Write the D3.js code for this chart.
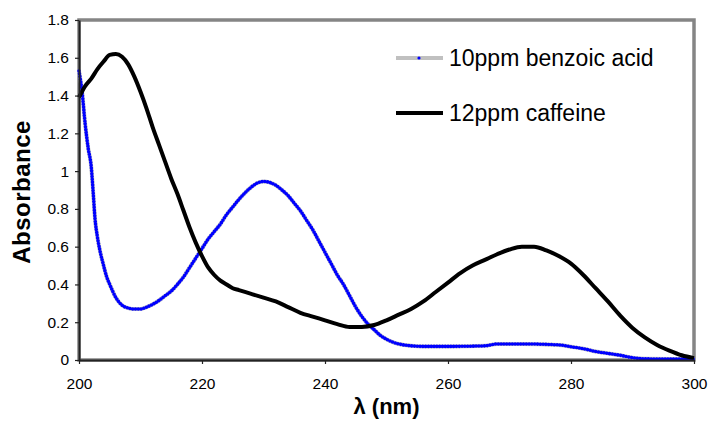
<!DOCTYPE html>
<html>
<head>
<meta charset="utf-8">
<script src="https://cdn.jsdelivr.net/npm/d3@7"></script>
<style>
  body { margin: 0; background: #fff; }
  text { font-family: "Liberation Sans", Arial, sans-serif; }
</style>
</head>
<body>
<div id="chart"></div>
<script>
// wavelength (nm) / absorbance
var benzoicNm = [200, 200.5, 201, 201.5, 202, 202.3, 202.6, 203, 203.4, 204, 204.5, 205, 206, 207, 208, 209, 210,
  211, 212, 213, 214, 215, 216, 217, 218, 219, 220, 221, 222, 223, 224, 225, 226, 227, 228, 229, 230,
  231, 232, 233, 234, 235, 236, 237, 238, 239, 240, 241, 242, 243, 244, 245, 246, 247, 248, 249, 250,
  251, 252, 254, 256, 260, 266, 268, 272, 278, 280, 282, 284, 286, 288, 290, 292, 296, 300];
var benzoicAbs = [1.53, 1.42, 1.25, 1.12, 1.02, 0.89, 0.75, 0.65, 0.58, 0.50, 0.44, 0.40, 0.33, 0.29, 0.275, 0.27, 0.27,
  0.28, 0.295, 0.315, 0.34, 0.365, 0.40, 0.44, 0.49, 0.54, 0.59, 0.64, 0.68, 0.72, 0.77, 0.81, 0.85, 0.885, 0.915, 0.937, 0.945,
  0.94, 0.925, 0.90, 0.87, 0.83, 0.79, 0.74, 0.69, 0.63, 0.57, 0.51, 0.45, 0.40, 0.34, 0.28, 0.23, 0.19, 0.16, 0.13, 0.11,
  0.095, 0.085, 0.075, 0.072, 0.072, 0.075, 0.085, 0.085, 0.08, 0.07, 0.06, 0.045, 0.035, 0.025, 0.012, 0.006, 0.005, 0.005];

var caffeineNm = [200, 201, 202, 203, 204, 205, 206, 207, 208, 209, 210, 211, 212, 213, 214, 215, 216, 217, 218, 219, 220,
  221, 222, 223, 224, 225, 226, 228, 230, 232, 234, 236, 238, 240, 242, 244, 246, 248, 250, 252, 254, 256, 258, 260,
  262, 264, 266, 268, 270, 272, 274, 276, 278, 280, 282, 284, 286, 288, 290, 292, 294, 296, 298, 300];
var caffeineAbs = [1.39, 1.45, 1.49, 1.54, 1.58, 1.615, 1.62, 1.605, 1.565, 1.50, 1.42, 1.33, 1.23, 1.14, 1.05, 0.96, 0.88, 0.79, 0.70, 0.62, 0.55,
  0.49, 0.45, 0.42, 0.40, 0.38, 0.37, 0.35, 0.33, 0.31, 0.28, 0.25, 0.23, 0.21, 0.19, 0.175, 0.175, 0.185, 0.21, 0.24, 0.27, 0.31, 0.36, 0.41,
  0.46, 0.50, 0.53, 0.56, 0.585, 0.60, 0.60, 0.58, 0.55, 0.51, 0.45, 0.38, 0.31, 0.235, 0.17, 0.12, 0.08, 0.05, 0.025, 0.01];

var xTicks = [200, 220, 240, 260, 280, 300];
var yTicks = [0, 0.2, 0.4, 0.6, 0.8, 1, 1.2, 1.4, 1.6, 1.8];
var seriesNames = ["10ppm benzoic acid", "12ppm caffeine"];

var W = 708, H = 430;
var margin = {top: 20, right: 14, bottom: 70, left: 79},
    width = W - margin.left - margin.right,
    height = H - margin.top - margin.bottom;

var svg = d3.select("#chart").append("svg")
    .attr("width", W)
    .attr("height", H);

var g = svg.append("g")
    .attr("transform", "translate(" + margin.left + "," + margin.top + ")");

var x = d3.scaleLinear().domain([200, 300]).range([0, width]);
var y = d3.scaleLinear().domain([0, 1.8]).range([height, 0]);

// plot frame (grey border like Excel)
g.append("rect")
    .attr("x", 0).attr("y", 0)
    .attr("width", width).attr("height", height)
    .attr("fill", "none")
    .attr("stroke", "#858585")
    .attr("stroke-width", 3.5);

var line = d3.line()
    .x(function(d) { return x(d[0]); })
    .y(function(d) { return y(d[1]); })
    .curve(d3.curveMonotoneX);

var benzoic = d3.zip(benzoicNm, benzoicAbs);
var caffeine = d3.zip(caffeineNm, caffeineAbs);

// benzoic acid: grey line with blue markers
g.append("path")
    .datum(benzoic)
    .attr("d", line)
    .attr("fill", "none")
    .attr("stroke", "#c0c0c0")
    .attr("stroke-width", 4);

g.append("path")
    .datum(benzoic)
    .attr("d", line)
    .attr("fill", "none")
    .attr("stroke", "#0000ff")
    .attr("stroke-width", 3.6)
    .attr("stroke-linecap", "round")
    .attr("stroke-dasharray", "0,2.8");

g.append("path")
    .datum(caffeine)
    .attr("d", line)
    .attr("fill", "none")
    .attr("stroke", "#000")
    .attr("stroke-width", 4)
    .attr("stroke-linejoin", "round");

// axes
var xAxis = g.append("g")
    .attr("transform", "translate(0," + height + ")")
    .call(d3.axisBottom(x).tickValues(xTicks).tickSize(4).tickSizeOuter(0).tickPadding(14));
var yAxis = g.append("g")
    .call(d3.axisLeft(y).tickValues(yTicks).tickSize(4).tickSizeOuter(0).tickPadding(6)
      .tickFormat(function(d) { return d3.format("")(d); }));

[xAxis, yAxis].forEach(function(a) {
  a.select(".domain").attr("stroke", "#222").attr("stroke-width", 2);
  a.selectAll(".tick line").attr("stroke", "#222").attr("stroke-width", 1.2);
  a.selectAll(".tick text")
    .attr("fill", "#000")
    .style("font-family", "'Liberation Sans', Arial, sans-serif")
    .style("font-size", "15.5px");
});

// axis titles
svg.append("text")
    .attr("x", margin.left + width / 2)
    .attr("y", 414)
    .attr("text-anchor", "middle")
    .style("font-weight", "bold")
    .style("font-size", "22px")
    .text("λ (nm)");

svg.append("text")
    .attr("transform", "translate(30," + (margin.top + height / 2 + 2) + ") rotate(-90)")
    .attr("text-anchor", "middle")
    .style("font-weight", "bold")
    .style("font-size", "24px")
    .style("letter-spacing", "0.5px")
    .text("Absorbance");

// legend
var legend = svg.append("g");
var legY = [58, 113];

legend.append("line")
    .attr("x1", 396).attr("x2", 443)
    .attr("y1", legY[0]).attr("y2", legY[0])
    .attr("stroke", "#c0c0c0").attr("stroke-width", 4);
legend.append("circle")
    .attr("cx", 419).attr("cy", legY[0]).attr("r", 1.6)
    .attr("fill", "#0000ff");
legend.append("line")
    .attr("x1", 396).attr("x2", 443)
    .attr("y1", legY[1]).attr("y2", legY[1])
    .attr("stroke", "#000").attr("stroke-width", 4);

legend.selectAll("text.leg")
    .data(seriesNames)
    .enter().append("text")
    .attr("class", "leg")
    .attr("x", 449)
    .attr("y", function(d, i) { return legY[i] + 8; })
    .style("font-size", "23px")
    .text(function(d) { return d; });
</script>
</body>
</html>
